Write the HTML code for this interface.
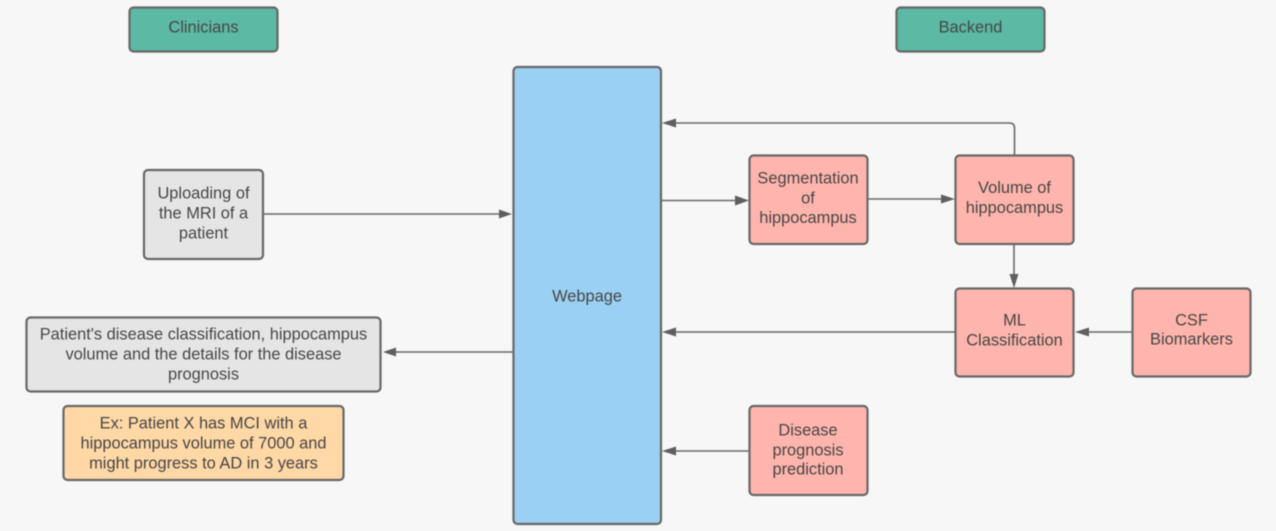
<!DOCTYPE html>
<html>
<head>
<meta charset="utf-8">
<style>
html,body{margin:0;padding:0;background:#f7f7f7;}
svg{display:block;filter:blur(0.45px);}
text{font-family:"Liberation Sans",sans-serif;font-size:16.4px;fill:#464646;text-anchor:middle;}
rect{stroke:#686868;stroke-width:2.2;}
.l{stroke:#686868;stroke-width:1.6;fill:none;}
.a{fill:#5f5f5f;stroke:none;}
</style>
</head>
<body>
<svg width="1276" height="531" viewBox="0 0 1276 531" xmlns="http://www.w3.org/2000/svg">
<rect x="0" y="0" width="1276" height="531" fill="#f7f7f7" style="stroke:none"/>

<path class="l" d="M262 214H500"/>
<path class="a" d="M512 214L499 209.500V218.500Z"/>
<path class="l" d="M513 352H395"/>
<path class="a" d="M383 352L396 347.500V356.500Z"/>
<path class="l" d="M661 200.500H737"/>
<path class="a" d="M749 200.500L735 195.500V205.500Z"/>
<path class="l" d="M867 199H942"/>
<path class="a" d="M955 199L941 194.500V203.500Z"/>
<path class="l" d="M1014.500 155V128Q1014.500 123 1009.500 123H675"/>
<path class="a" d="M662 123L676 118.500V127.500Z"/>
<path class="l" d="M1014 244V276"/>
<path class="a" d="M1014 288L1009.500 274H1018.500Z"/>
<path class="l" d="M955 332H675"/>
<path class="a" d="M662 332L676 327.500V336.500Z"/>
<path class="l" d="M1132 332H1088"/>
<path class="a" d="M1075 332L1089 327.500V336.500Z"/>
<path class="l" d="M749 451H675"/>
<path class="a" d="M662 451L676 446.500V455.500Z"/>

<rect x="129.500" y="7.500" width="148" height="44" rx="4" fill="#5bb9a4"/>
<text x="203.500" y="32.500">Clinicians</text>
<rect x="896.500" y="7.500" width="148" height="44" rx="4" fill="#5bb9a4"/>
<text x="970.500" y="32.500">Backend</text>

<rect x="513.500" y="67" width="147.500" height="457" rx="4" fill="#9ad0f3"/>
<text x="587" y="301.500">Webpage</text>

<rect x="144" y="170" width="119" height="89" rx="4" fill="#e5e5e5"/>
<text x="203.500" y="198.500">Uploading of</text>
<text x="203.500" y="218.500">the MRI of a</text>
<text x="203.500" y="238.500">patient</text>

<rect x="26.500" y="317.500" width="354" height="74" rx="4" fill="#e5e5e5"/>
<text x="203.500" y="339.500">Patient's disease classification, hippocampus</text>
<text x="203.500" y="359.500">volume and the details for the disease</text>
<text x="203.500" y="379.500">prognosis</text>

<rect x="63.500" y="406" width="280" height="74" rx="4" fill="#ffd8a6"/>
<text x="203.500" y="428.500">Ex: Patient X has MCI with a</text>
<text x="203.500" y="448.500">hippocampus volume of 7000 and</text>
<text x="203.500" y="468.500">might progress to AD in 3 years</text>

<rect x="749.500" y="155.500" width="118" height="88.500" rx="4" fill="#ffb5ad"/>
<text x="808" y="183.500">Segmentation</text>
<text x="808" y="203.500">of</text>
<text x="808" y="223">hippocampus</text>

<rect x="955.500" y="155.500" width="118" height="88.500" rx="4" fill="#ffb5ad"/>
<text x="1014.500" y="193">Volume of</text>
<text x="1014.500" y="213">hippocampus</text>

<rect x="955.500" y="288.500" width="118" height="88" rx="4" fill="#ffb5ad"/>
<text x="1014.500" y="325.500">ML</text>
<text x="1014.500" y="345.500">Classification</text>

<rect x="1132.500" y="288.500" width="118" height="88" rx="4" fill="#ffb5ad"/>
<text x="1191.500" y="325.500">CSF</text>
<text x="1191.500" y="344.500">Biomarkers</text>

<rect x="749.500" y="406" width="118" height="89" rx="4" fill="#ffb5ad"/>
<text x="808" y="435.500">Disease</text>
<text x="808" y="455.500">prognosis</text>
<text x="808" y="474.500">prediction</text>
</svg>
</body>
</html>
